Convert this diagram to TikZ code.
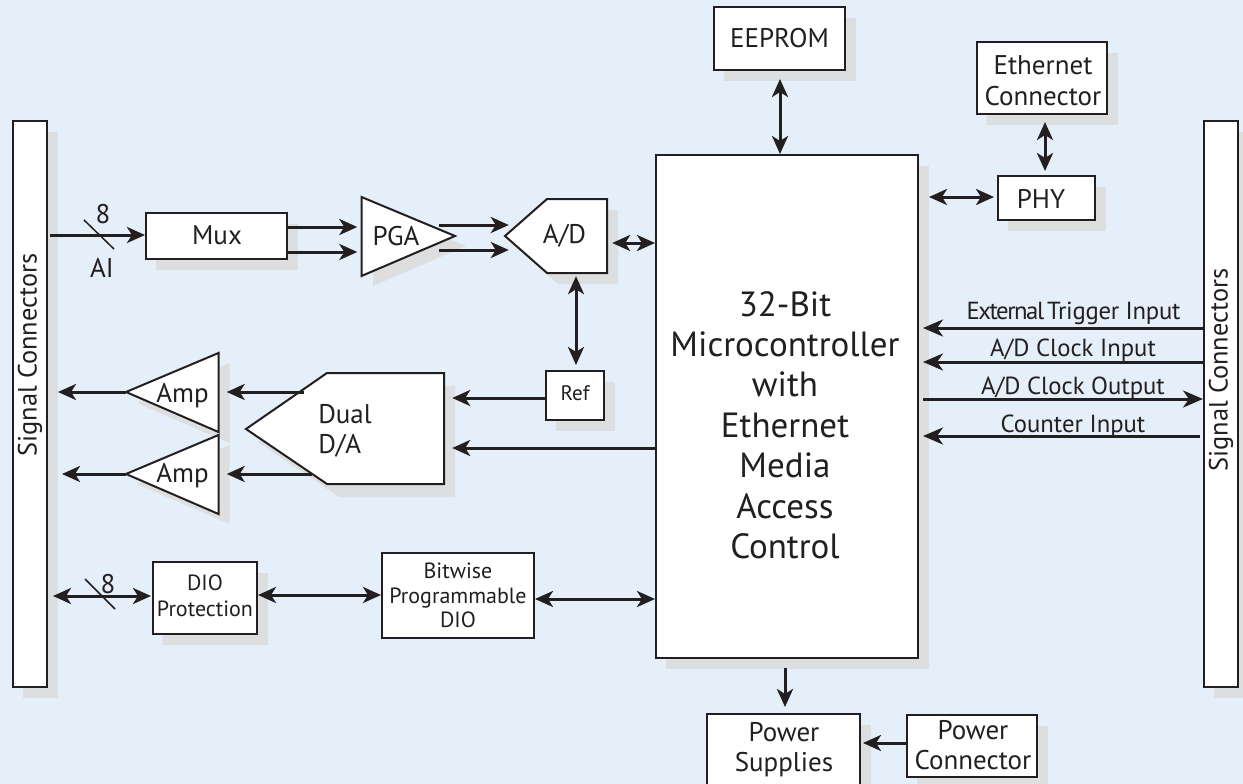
\documentclass[tikz,border=0pt]{standalone}
\usepackage{fontspec}
\setmainfont{PT Sans}
\usetikzlibrary{arrows.meta}
\definecolor{bgc}{HTML}{E4EFF9}
\definecolor{shc}{HTML}{DCDEDF}
\definecolor{ink}{HTML}{231F20}
\tikzset{
  x=1pt,y=-1pt,
  headtip/.tip={Stealth[length=18pt,width=16pt,inset=5pt]},
  bighead/.tip={Stealth[length=20pt,width=17pt,inset=6pt]},
  arr/.style={draw=ink,line width=3pt,-headtip},
  barr/.style={draw=ink,line width=3pt,-bighead},
  darr/.style={draw=ink,line width=3pt,headtip-headtip},
  shape fill/.style={fill=white,draw=ink,line width=2pt,line join=miter},
  shadow shape/.style={fill=shc,draw=none},
  lab/.style={font=\fontsize{27}{31}\selectfont,text=ink,align=center,inner sep=0pt},
  small/.style={font=\fontsize{22}{25}\selectfont,text=ink,align=center,inner sep=0pt},
  sig/.style={font=\fontsize{24.7}{28}\selectfont,text=ink,align=center,inner sep=0pt},
  tick/.style={draw=ink,line width=1.5pt},
}
% name x1 y1 x2 y2 style text
\newcommand{\bx}[7]{%
  \fill[shadow shape] (#2+10,#3+11) rectangle (#4+11,#5+11);
  \node[shape fill,rectangle,minimum width=#4pt-#2pt,minimum height=#5pt-#3pt,inner sep=0pt,#6] (#1) at ({(#2+#4)/2},{(#3+#5)/2}) {#7};}
\begin{document}
\begin{tikzpicture}
\useasboundingbox (0,0) rectangle (1243,784);
\clip (0,0) rectangle (1243,784);
\fill[bgc] (0,0) rectangle (1243,784);
% bars
\bx{lbar}{13}{121}{47}{687}{}{}
\bx{rbar}{1204}{121}{1238}{687}{}{}
\node[sig,rotate=90,font=\fontsize{26.4}{28}\selectfont] (lbart) at (30,355) {Signal Connectors};
\node[sig,rotate=90,font=\fontsize{26.4}{28}\selectfont] (rbart) at (1221,370) {Signal Connectors};
% MCU
\bx{mcu}{656}{155}{918}{658}{}{}
\node[lab,font=\fontsize{35}{40.4}\selectfont] (mcut) at (785,425) {32-Bit\\Microcontroller\\with\\Ethernet\\Media\\Access\\Control};
\bx{eeprom}{714}{7}{845}{70}{lab}{EEPROM}
\bx{eth}{977}{42}{1107}{114}{}{}
\node[lab] (etht) at (1043,81) {Ethernet\\Connector};
\bx{phy}{998}{176}{1095}{220}{}{}
\node[lab] (phyt) at (1041,199) {PHY};
\bx{mux}{146}{213}{287}{259}{}{}
\node[lab] (muxt) at (217,235) {Mux};
\bx{ref}{546}{371}{604}{420}{}{}
\node[small,font=\fontsize{21}{25}\selectfont] (reft) at (575,393) {Ref};
\bx{dioprot}{153}{562}{257}{634}{}{}
\node[small,font=\fontsize{22}{26}\selectfont] (diot) at (205,596) {DIO\\Protection};
\node[shape fill,rectangle,minimum width=152pt,minimum height=85pt,inner sep=0pt,small,font=\fontsize{22}{24.5}\selectfont] (bit) at (458,595.5) {Bitwise\\Programmable\\DIO};
\bx{psup}{707}{714}{860}{790}{}{}
\node[lab,font=\fontsize{27}{30}\selectfont] (psupt) at (784,749.5) {Power\\Supplies};
\bx{pconn}{907}{715}{1037}{777}{}{}
\node[lab,font=\fontsize{27}{30}\selectfont] (pconnt) at (973,745) {Power\\Connector};
% polygons
\fill[shadow shape] (373,207) -- (373,286) -- (466,246) -- cycle;
\draw[shape fill] (361.5,197) -- (361.5,276) -- (455,236) -- cycle;
\node[minimum width=93.5pt,minimum height=79pt,inner sep=0pt] (pga) at (408.25,236.5) {};
\node[lab] (pgat) at (396,236) {PGA};
\fill[shadow shape] (618,210) -- (558,210) -- (517,247) -- (558,284) -- (618,284) -- cycle;
\draw[shape fill] (607,199) -- (547,199) -- (505,236) -- (547,273) -- (607,273) -- cycle;
\node[minimum width=102pt,minimum height=74pt,inner sep=0pt] (ad) at (556,236) {};
\node[lab] (adt) at (564.5,236) {A/D};
\fill[shadow shape] (455,386) -- (339,386) -- (258,442) -- (339,497) -- (455,497) -- cycle;
\draw[shape fill] (444,373) -- (327,373) -- (246,429) -- (327,484) -- (444,484) -- cycle;
\node[minimum width=198pt,minimum height=111pt,inner sep=0pt] (da) at (345,428.5) {};
\node[lab,align=left,font=\fontsize{27}{30}\selectfont] (dat) at (345,430.5) {Dual\\D/A};
\fill[shadow shape] (229.5,363) -- (229.5,443) -- (137,403) -- cycle;
\draw[shape fill] (218.5,353) -- (218.5,432) -- (126,392) -- cycle;
\node[minimum width=92.5pt,minimum height=79pt,inner sep=0pt] (amp1) at (172.25,392.5) {};
\node[lab] (amp1t) at (182.5,396) {Amp};
\fill[shadow shape] (229.5,445) -- (229.5,524) -- (137,484) -- cycle;
\draw[shape fill] (218.5,435) -- (218.5,514) -- (126,474) -- cycle;
\node[minimum width=92.5pt,minimum height=79pt,inner sep=0pt] (amp2) at (172.25,474.5) {};
\node[lab] (amp2t) at (182.5,476) {Amp};
% connectors
\draw[arr] ([xshift=2pt]lbar.east |- 0,235) -- (mux.west |- 0,235);
\coordinate (tickaa) at (84,220);
\coordinate (tickab) at (114,249);
\draw[tick] (tickaa) -- (tickab);
\node[lab] (n8a) at (103,214) {8};
\node[lab] (ai) at (102,268) {AI};
\draw[arr] (mux.east |- 0,227) -- ([xshift=-4pt]pga.west |- 0,227);
\draw[arr] (mux.east |- 0,252) -- ([xshift=-4pt]pga.west |- 0,252);
\draw[arr] ([xshift=-16pt]pga.east |- 0,225) -- ([xshift=4pt]ad.west |- 0,225);
\draw[arr] ([xshift=-16pt]pga.east |- 0,250) -- ([xshift=4pt]ad.west |- 0,250);
\draw[darr] ([xshift=5pt]ad.east |- 0,243) -- (mcu.west |- 0,243);
\draw[darr] ([yshift=-3pt]ad.south -| 576,0) -- ([yshift=5pt]ref.north -| 576,0);
\draw[arr] (ref.west |- 0,398) -- ([xshift=8pt]da.east |- 0,398);
\draw[arr] (mcu.west |- 0,448) -- ([xshift=8pt]da.east |- 0,448);
\draw[arr] ([xshift=58pt]da.west |- 0,392) -- ([xshift=8pt]amp1.east |- 0,392);
\draw[arr] ([xshift=66pt]da.west |- 0,474) -- ([xshift=8pt]amp2.east |- 0,474);
\draw[arr] (amp1.west |- 0,392) -- (58,392);
\draw[arr] (amp2.west |- 0,474) -- (62,474);
\draw[darr] ([xshift=5pt]lbar.east |- 0,596) -- ([xshift=-1pt]dioprot.west |- 0,596);
\coordinate (tickba) at (85,579);
\coordinate (tickbb) at (115,609);
\draw[tick] (tickba) -- (tickbb);
\node[lab] (n8b) at (108,584) {8};
\draw[darr] (dioprot.east |- 0,595) -- (bit.west |- 0,595);
\draw[darr] (bit.east |- 0,599) -- (mcu.west |- 0,599);
\draw[darr] ([yshift=-8pt]eeprom.south -| 780,0) -- (mcu.north -| 780,0);
\draw[darr] ([yshift=-7pt]eth.south -| 1045,0) -- ([yshift=4pt]phy.north -| 1045,0);
\draw[darr] ([xshift=10pt]mcu.east |- 0,197) -- ([xshift=-3pt]phy.west |- 0,197);
\draw[barr] (rbar.west |- 0,328) -- ([xshift=4pt]mcu.east |- 0,328);
\draw[barr] (rbar.west |- 0,362) -- ([xshift=4pt]mcu.east |- 0,362);
\draw[barr] ([xshift=4pt]mcu.east |- 0,399) -- (rbar.west |- 0,399);
\draw[barr] ([xshift=-3pt]rbar.west |- 0,436) -- ([xshift=4pt]mcu.east |- 0,436);
\node[sig] (etrig) at (1073.5,313) {{\addfontfeature{LetterSpace=-6}External}\hspace{3pt}{\addfontfeature{LetterSpace=-1}Trigger Input}};
\node[sig] (adci) at (1073,350) {A/D Clock Input};
\node[sig] (adco) at (1073,388) {A/D Clock Output};
\node[sig] (cnt) at (1073,426) {Counter Input};
\draw[arr] ([yshift=-9pt]mcu.south -| 785,0) -- ([yshift=6pt]psup.north -| 785,0);
\draw[arr] (pconn.west |- 0,743) -- ([xshift=2pt]psup.east |- 0,743);
\end{tikzpicture}
\end{document}
